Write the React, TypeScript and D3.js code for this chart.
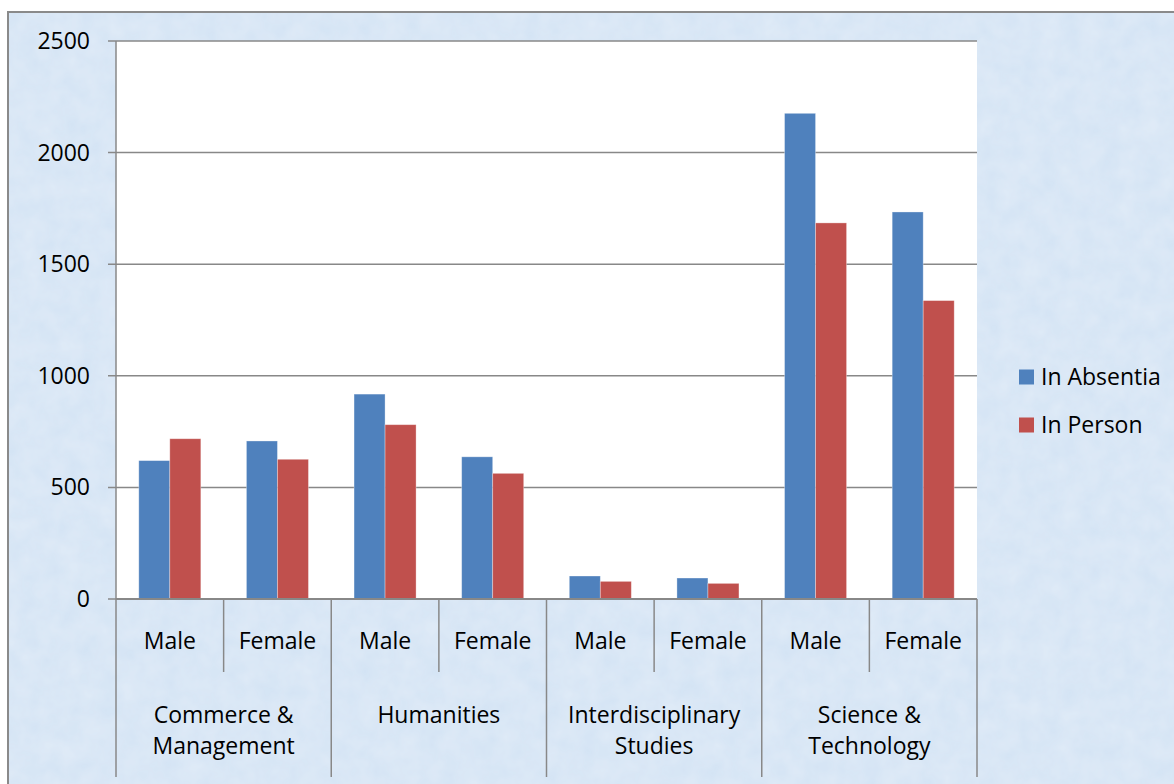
import React from 'react';
import * as d3 from 'd3';

const groups = ['Commerce & Management', 'Humanities', 'Interdisciplinary Studies', 'Science & Technology'];
const groupLines = [['Commerce &', 'Management'], ['Humanities'], ['Interdisciplinary', 'Studies'], ['Science &', 'Technology']];
const genders = ['Male', 'Female'];
const seriesNames = ['In Absentia', 'In Person'];
const seriesColors = ['#4f81bd', '#c0504d'];
// order: group x gender
const inAbsentia = [620, 708, 918, 637, 103, 94, 2176, 1734];
const inPerson = [718, 626, 781, 563, 79, 70, 1685, 1337];
const yTicks = [0, 500, 1000, 1500, 2000, 2500];

const W = 1174;
const H = 784;
const margin = { left: 116, right: 197, top: 41, bottom: 185 };
const font = "'Open Sans', 'Noto Sans', sans-serif";
const fs = 23;

const App: React.FC = () => {
  const cats = groups.flatMap(g => genders.map(s => `${g}|${s}`));
  const x = d3.scaleBand<string>().domain(cats).range([margin.left, W - margin.right]).paddingInner(0).paddingOuter(0);
  const x1 = d3.scaleBand<string>().domain(seriesNames).range([0, x.bandwidth()]).paddingInner(0).paddingOuter(0.735);
  const y = d3.scaleLinear().domain([0, 2500]).range([H - margin.bottom, margin.top]);
  const series = [inAbsentia, inPerson];
  const y0 = y(0);
  const gw = x.bandwidth() * 2;

  return (
    <svg width={W} height={H} style={{ position: 'absolute', left: 0, top: 0 }}>
      <defs>
        <filter id="tex" x="0" y="0" width="100%" height="100%">
          <feTurbulence type="fractalNoise" baseFrequency="0.05" numOctaves={3} seed={4} />
          <feColorMatrix type="matrix" values="0 0 0 0 1  0 0 0 0 1  0 0 0 0 1  0 0 0 0.35 0" />
          <feComposite in2="SourceGraphic" operator="in" />
        </filter>
      </defs>
      <rect x={0} y={0} width={W} height={H} fill="#ffffff" />
      <rect x={8} y={12} width={W} height={H} fill="#d3e3f4" stroke="#8a8a8a" strokeWidth={2} />
      <rect x={9} y={13} width={W} height={H} fill="#ffffff" filter="url(#tex)" opacity={0.85} />
      <rect x={margin.left} y={margin.top} width={W - margin.right - margin.left} height={y0 - margin.top} fill="#ffffff" />

      {yTicks.map(t => (
        <g key={t}>
          <line x1={margin.left - 8} x2={W - margin.right} y1={y(t)} y2={y(t)} stroke="#888" strokeWidth={1.5} />
          <text x={90} y={y(t)} dy="0.35em" textAnchor="end" fontFamily={font} fontSize={fs} fill="#000">{t}</text>
        </g>
      ))}

      {cats.map((c, i) =>
        series.map((s, k) => {
          const bx = (x(c) ?? 0) + (x1(seriesNames[k]) ?? 0);
          return (
            <rect key={`${c}-${k}`} x={bx} y={y(s[i])} width={x1.bandwidth()} height={y0 - y(s[i])}
              fill={seriesColors[k]} stroke="#ffffff" strokeOpacity={0.4} strokeWidth={0.8} />
          );
        })
      )}

      <line x1={margin.left} x2={margin.left} y1={margin.top} y2={777} stroke="#888" strokeWidth={1.5} />
      <line x1={margin.left} x2={W - margin.right} y1={y0} y2={y0} stroke="#888" strokeWidth={2} />

      {cats.map((c, i) => {
        const xe = (x(c) ?? 0) + x.bandwidth();
        const isGroupEnd = i % 2 === 1;
        return <line key={`sep-${c}`} x1={xe} x2={xe} y1={y0} y2={isGroupEnd ? 777 : 672} stroke="#888" strokeWidth={1.5} />;
      })}

      {cats.map((c, i) => (
        <text key={`lab-${c}`} x={(x(c) ?? 0) + x.bandwidth() / 2} y={641} dy="0.35em" textAnchor="middle"
          fontFamily={font} fontSize={fs} fill="#000">{genders[i % 2]}</text>
      ))}

      {groups.map((g, gi) => {
        const cx = (x(`${g}|Male`) ?? 0) + gw / 2;
        const lines = groupLines[gi];
        return (
          <text key={g} textAnchor="middle" fontFamily={font} fontSize={fs} fill="#000">
            {lines.map((l, li) => (
              <tspan key={l} x={cx} y={715 + li * 31} dy="0.35em">{l}</tspan>
            ))}
          </text>
        );
      })}

      {seriesNames.map((n, k) => (
        <g key={n} transform={`translate(1019,${377 + k * 48})`}>
          <rect x={0} y={-7.5} width={15} height={15} fill={seriesColors[k]} />
          <text x={22} y={0} dy="0.35em" fontFamily={font} fontSize={fs} fill="#000">{n}</text>
        </g>
      ))}
    </svg>
  );
};

export default App;
